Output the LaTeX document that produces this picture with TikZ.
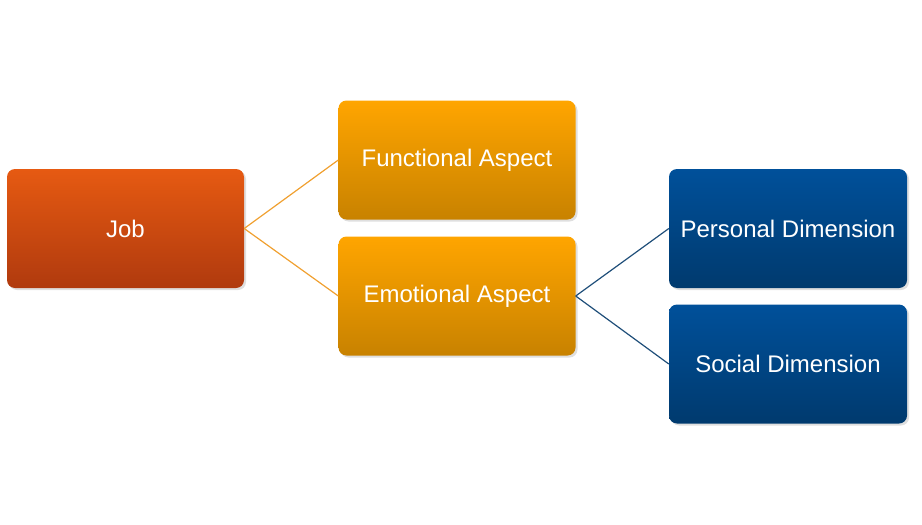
\documentclass[tikz,border=0pt]{standalone}
\usepackage{fontspec}
\setmainfont{Liberation Sans}
\usetikzlibrary{shadows}
\definecolor{jobT}{HTML}{E65A12}\definecolor{jobB}{HTML}{B03A0E}
\definecolor{orT}{HTML}{FFA500}\definecolor{orB}{HTML}{C88200}
\definecolor{blT}{HTML}{00509A}\definecolor{blB}{HTML}{003A6E}
\definecolor{orL}{HTML}{F0A030}\definecolor{blL}{HTML}{1F4E79}
\begin{document}
\begin{tikzpicture}[x=1pt,y=-1pt,
 box/.style={rounded corners=8pt,minimum width=237pt,minimum height=119pt,text=white,
  font=\fontsize{24}{28}\selectfont,inner sep=0pt,drop shadow={opacity=0.25,shadow xshift=2pt,shadow yshift=-2pt}},
 jobbox/.style={box,top color=jobT,bottom color=jobB},
 orbox/.style={box,top color=orT,bottom color=orB},
 blbox/.style={box,top color=blT,bottom color=blB},
 oline/.style={draw=orL,line width=1.2pt},
 bline/.style={draw=blL,line width=1.2pt}]
\useasboundingbox (0,0) rectangle (922,525);
\node[jobbox] (job) at (125.5,228.5) {Job};
\node[orbox] (fun) at (457,160) {Functional Aspect};
\node[orbox] (emo) at (457,296) {Emotional Aspect};
\node[blbox,minimum width=238pt] (per) at (788,228.5) {Personal Dimension};
\node[blbox,minimum width=238pt] (soc) at (788,364) {Social Dimension};
\draw[oline] (job.east) -- (fun.west);
\draw[oline] (job.east) -- (emo.west);
\draw[bline] (emo.east) -- (per.west);
\draw[bline] (emo.east) -- (soc.west);
\end{tikzpicture}
\end{document}
